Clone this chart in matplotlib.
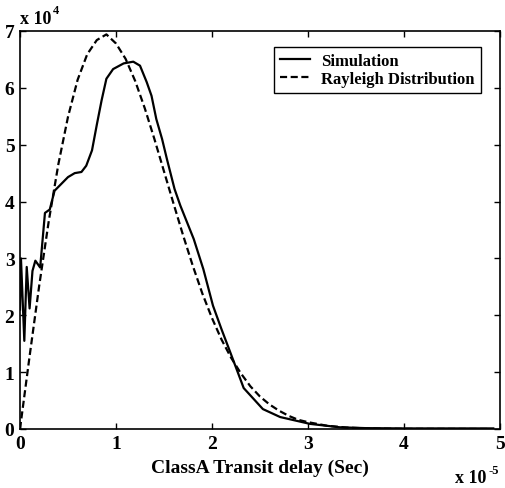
import matplotlib
matplotlib.use('Agg')
import matplotlib.pyplot as plt

# Simulation curve (x in units of 1e-5 s, y in units of 1e4)
sim_x = [0, 0.01, 0.045, 0.07, 0.10, 0.13, 0.16, 0.21, 0.26, 0.31, 0.36, 0.43, 0.50,
         0.57, 0.64, 0.69, 0.75, 0.80, 0.85, 0.90, 0.97, 1.08, 1.18, 1.25, 1.32, 1.37,
         1.42, 1.48, 1.53, 1.61, 1.67, 1.81, 1.91, 2.01, 2.10, 2.19, 2.33, 2.53, 2.71,
         3.02, 3.33, 3.60, 4.00, 4.93]
sim_y = [2.1, 3.0, 1.55, 2.85, 2.12, 2.78, 2.96, 2.84, 3.80, 3.86, 4.19, 4.31, 4.43,
         4.50, 4.52, 4.63, 4.90, 5.35, 5.78, 6.16, 6.33, 6.43, 6.46, 6.39, 6.10, 5.86,
         5.45, 5.10, 4.75, 4.22, 3.93, 3.34, 2.81, 2.17, 1.75, 1.35, 0.72, 0.35, 0.21,
         0.09, 0.03, 0.015, 0.01, 0.01]

# Rayleigh distribution curve
ray_x = [0, 0.1, 0.2, 0.3, 0.4, 0.5, 0.6, 0.7, 0.8, 0.9, 1.0, 1.1, 1.2, 1.3, 1.4, 1.5,
         1.6, 1.7, 1.8, 1.9, 2.0, 2.1, 2.2, 2.3, 2.4, 2.5, 2.6, 2.7, 2.8, 2.9, 3.0,
         3.2, 3.4, 3.6, 3.8, 4.0, 4.9]
ray_y = [0, 1.28, 2.52, 3.66, 4.66, 5.49, 6.14, 6.59, 6.84, 6.94, 6.78, 6.51, 6.12,
         5.64, 5.10, 4.53, 3.96, 3.40, 2.87, 2.38, 1.95, 1.57, 1.25, 0.98, 0.75, 0.57,
         0.43, 0.32, 0.23, 0.16, 0.12, 0.056, 0.025, 0.011, 0.005, 0.002, 0]

xticks = [0, 1, 2, 3, 4, 5]
yticks = [0, 1, 2, 3, 4, 5, 6, 7]

plt.rcParams['font.family'] = 'Liberation Serif'
plt.rcParams['font.weight'] = 'bold'

fig = plt.figure(figsize=(5.05, 4.89), dpi=100)
ax = fig.add_axes([0.0396, 0.1207, 0.9505, 0.8139])

ax.plot(sim_x, sim_y, color='black', linewidth=1.6, label='Simulation')
ax.plot(ray_x, ray_y, color='black', linewidth=1.6, linestyle=(0, (3.2, 1.6)),
        label='Rayleigh Distribution')

ax.set_xlim(0, 5)
ax.set_ylim(0, 7)
ax.set_xticks(xticks)
ax.set_yticks(yticks)
ax.tick_params(direction='in', length=4.5, width=1, top=True, right=True,
               labelsize=14, pad=4)
for s in ax.spines.values():
    s.set_linewidth(1.2)

ax.set_xlabel('ClassA Transit delay (Sec)', fontsize=14, fontweight='bold', labelpad=5)

# exponent labels
ax.text(0.0, 1.01, 'x 10', transform=ax.transAxes, fontsize=13, fontweight='bold',
        ha='left', va='bottom')
ax.text(0.068, 1.037, '4', transform=ax.transAxes, fontsize=9, fontweight='bold',
        ha='left', va='bottom')
ax.text(0.907, -0.1, 'x 10', transform=ax.transAxes, fontsize=13, fontweight='bold',
        ha='left', va='top')
ax.text(0.975, -0.088, '-5', transform=ax.transAxes, fontsize=9, fontweight='bold',
        ha='left', va='top')

leg = ax.legend(loc='upper right', bbox_to_anchor=(0.96, 0.959), borderaxespad=0,
                fancybox=False, edgecolor='black', framealpha=1,
                prop={'family': 'Liberation Serif', 'weight': 'bold', 'size': 12},
                handlelength=1.8, handletextpad=0.7, borderpad=0.35, labelspacing=0.1)
leg.get_frame().set_linewidth(1.0)

fig.savefig('out.png', dpi=100)
